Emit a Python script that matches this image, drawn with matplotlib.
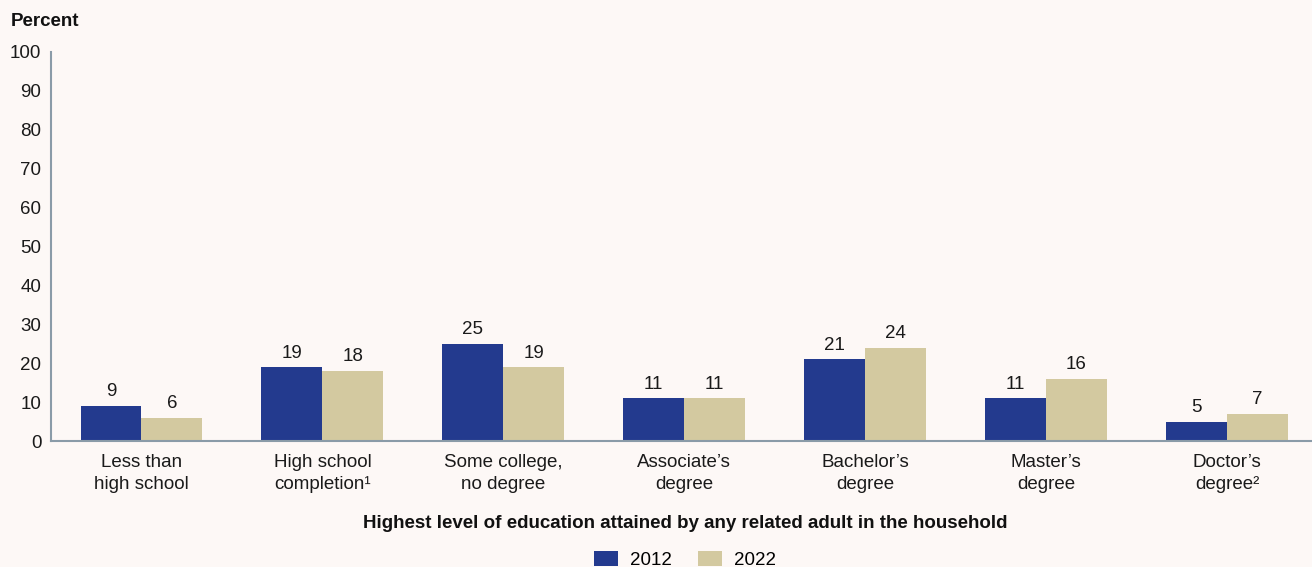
import matplotlib
matplotlib.use("Agg")
import matplotlib.pyplot as plt
import numpy as np

categories = [
    "Less than\nhigh school",
    "High school\ncompletion\u00b9",
    "Some college,\nno degree",
    "Associate\u2019s\ndegree",
    "Bachelor\u2019s\ndegree",
    "Master\u2019s\ndegree",
    "Doctor\u2019s\ndegree\u00b2",
]
values_2012 = [9, 19, 25, 11, 21, 11, 5]
values_2022 = [6, 18, 19, 11, 24, 16, 7]
series_names = ["2012", "2022"]
y_ticks = [0, 10, 20, 30, 40, 50, 60, 70, 80, 90, 100]

plt.rcParams["font.family"] = ["Liberation Sans", "DejaVu Sans"]

bg = "#FDF8F6"
c2012 = "#233A8E"
c2022 = "#D3C9A0"
spine_col = "#8A9BA8"
fs = 13.5

fig = plt.figure(figsize=(13.12, 5.67), dpi=100, facecolor=bg)
ax = fig.add_axes([0.0389, 0.2222, 0.9611, 0.6861], facecolor=bg)

x = np.arange(len(categories))
w = 0.337
b1 = ax.bar(x - w / 2, values_2012, w, color=c2012, label=series_names[0])
b2 = ax.bar(x + w / 2, values_2022, w, color=c2022, label=series_names[1])

for bars, vals in ((b1, values_2012), (b2, values_2022)):
    for rect, v in zip(bars, vals):
        ax.annotate(f"{v}", (rect.get_x() + rect.get_width() / 2, v),
                    xytext=(0, 4), textcoords="offset points",
                    ha="center", va="bottom", fontsize=fs, color="#1a1a1a")

ax.set_ylim(0, 100)
ax.set_xlim(-0.5, 6.47)
ax.set_yticks(y_ticks)
ax.set_yticklabels([str(t) for t in y_ticks], fontsize=fs, color="#1a1a1a")
ax.set_xticks(x)
ax.set_xticklabels(categories, fontsize=fs, color="#1a1a1a", linespacing=1.4)
ax.tick_params(axis="both", length=0)
ax.tick_params(axis="y", pad=7)
ax.tick_params(axis="x", pad=9)

for s in ("top", "right"):
    ax.spines[s].set_visible(False)
for s in ("left", "bottom"):
    ax.spines[s].set_color(spine_col)
    ax.spines[s].set_linewidth(1.5)

fig.text(11 / 1312, 1 - 21 / 567, "Percent", fontsize=fs, fontweight="bold",
         ha="left", va="center", color="#111111")
fig.text(685 / 1312, 1 - 524 / 567,
         "Highest level of education attained by any related adult in the household",
         fontsize=fs, fontweight="bold", ha="center", va="center", color="#111111")

fig.legend(handles=[b1, b2], labels=series_names, loc="center",
           bbox_to_anchor=(685 / 1312, 1 - 560 / 567), ncol=2, frameon=False,
           fontsize=fs, handlelength=1.3, handleheight=0.9, columnspacing=1.4,
           handletextpad=0.64, borderpad=0.2)

fig.savefig("out.png", dpi=100, facecolor=bg)
